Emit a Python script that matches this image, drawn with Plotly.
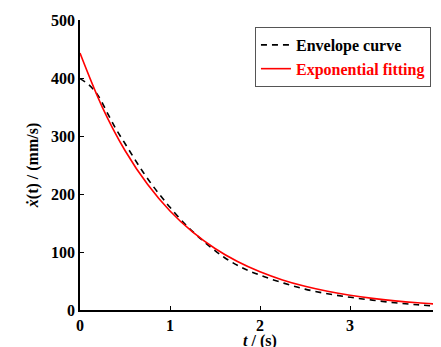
import plotly.graph_objects as go

# Envelope curve (dashed black)
env_t = [0, 0.1, 0.2, 0.3, 0.4, 0.5, 0.6, 0.7, 0.8, 0.9, 1.0, 1.2, 1.4, 1.6, 1.8,
         2.0, 2.25, 2.5, 2.75, 3.0, 3.25, 3.5, 3.75, 4.0]
env_v = [399, 388, 370, 341, 312, 287, 262, 238, 216, 196, 177, 143, 115, 91, 73,
         60, 47, 36, 28, 22, 17, 12.5, 9, 6]

# Exponential fitting (solid red)
fit_t = [0, 0.25, 0.5, 0.75, 1.0, 1.25, 1.5, 1.75, 2.0, 2.25, 2.5, 2.75, 3.0,
         3.25, 3.5, 3.75, 4.0]
fit_v = [443, 349, 275, 216.7, 170.7, 134.5, 106, 83.5, 65.8, 51.8, 40.8, 32.2,
         25.4, 20.0, 15.7, 12.4, 9.8]

x_ticks = [0, 1, 2, 3, 4]
y_ticks = [0, 100, 200, 300, 400, 500]

FONT = "Liberation Serif"

fig = go.Figure()
fig.add_trace(go.Scatter(x=env_t, y=env_v, mode="lines", name="<b>Envelope curve</b>",
                         line=dict(color="black", width=1.6, dash="6px,5px", shape="spline")))
fig.add_trace(go.Scatter(x=fit_t, y=fit_v, mode="lines",
                         name="<b><span style='color:red'>Exponential fitting</span></b>",
                         line=dict(color="red", width=1.6, shape="spline")))

fig.update_layout(
    width=433, height=339,
    margin=dict(l=72, r=1, t=12, b=37, autoexpand=False),
    paper_bgcolor="white", plot_bgcolor="white",
    font=dict(family=FONT, size=16, color="black"),
    showlegend=True,
    legend=dict(x=0.486, y=0.976, xanchor="left", yanchor="top",
                bordercolor="#555", borderwidth=1, bgcolor="white",
                font=dict(family=FONT, size=16), tracegroupgap=0,
                itemwidth=30),
    xaxis=dict(range=[0, 4], tickvals=x_ticks, ticktext=[f"<b>{v}</b>" for v in x_ticks],
               ticks="inside", ticklen=4, tickwidth=1, tickcolor="black",
               showline=True, linecolor="black", linewidth=1.5,
               showgrid=False, zeroline=False, ticklabeloverflow="allow",
               tickfont=dict(family=FONT, size=16)),
    yaxis=dict(range=[0, 500], tickvals=y_ticks, ticktext=[f"<b>{v}</b>" for v in y_ticks],
               ticks="inside", ticklen=4, tickwidth=1, tickcolor="black",
               showline=True, linecolor="black", linewidth=1.5,
               showgrid=False, zeroline=False,
               tickfont=dict(family=FONT, size=16),
               title=dict(text="<b><i>\u1e8b</i>(t) / (mm/s)</b>", standoff=8,
                          font=dict(family=FONT, size=16))),
    annotations=[dict(text="<b><i>t</i> / (s)</b>", xref="paper", yref="paper",
                      x=0.5, y=0, xanchor="center", yanchor="top", yshift=-20,
                      showarrow=False, font=dict(family=FONT, size=16))],
)

fig.write_html("out.html")
